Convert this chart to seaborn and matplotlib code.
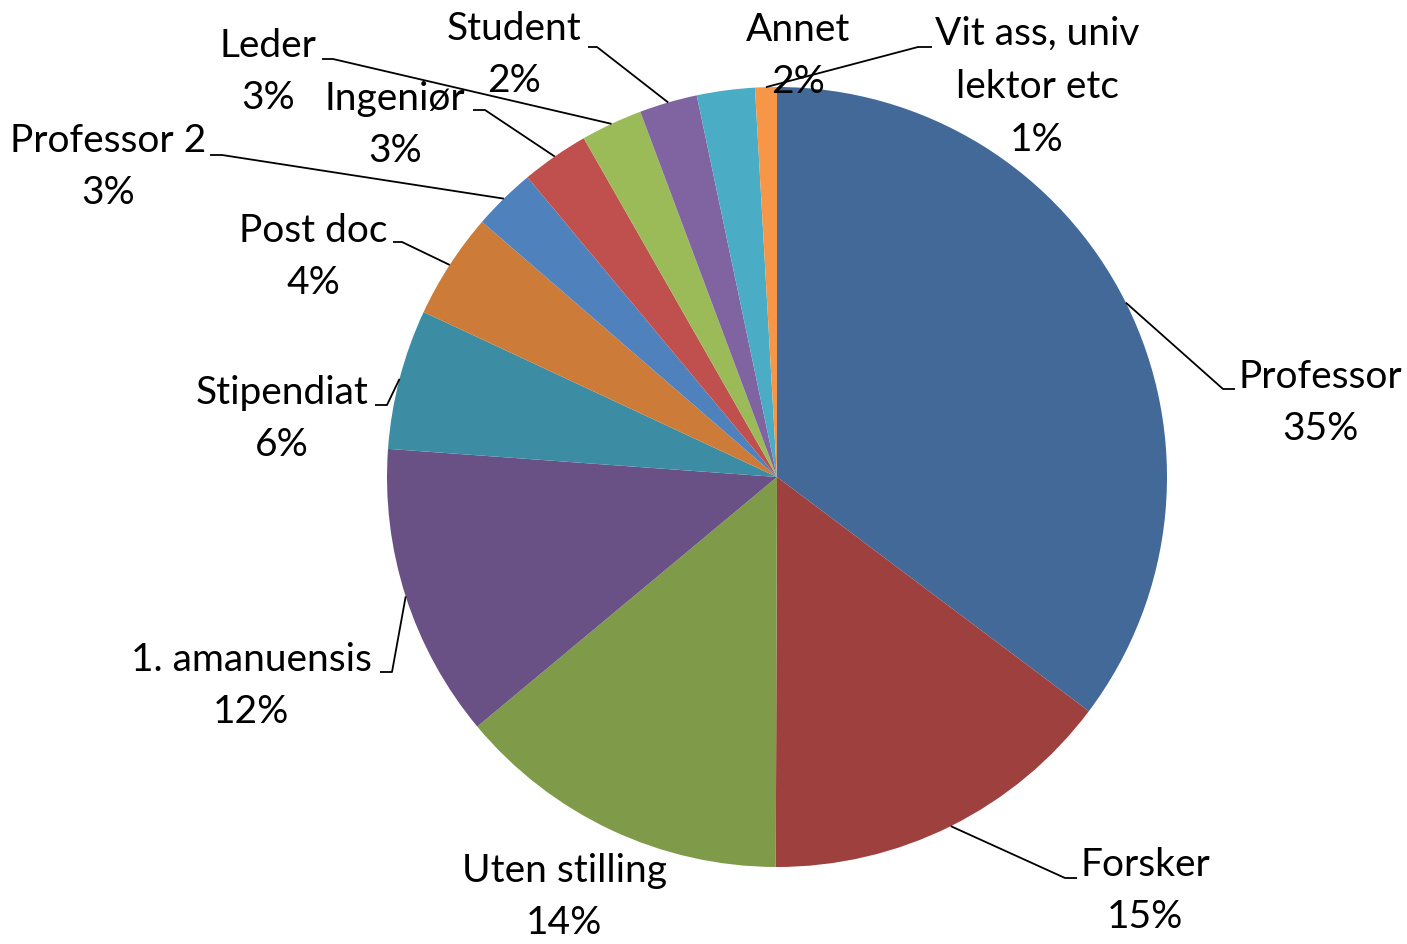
import numpy as np
import matplotlib
matplotlib.use("Agg")
import matplotlib.pyplot as plt
import seaborn as sns

# ---- data ----
categories = ["Professor", "Forsker", "Uten stilling", "1. amanuensis", "Stipendiat",
              "Post doc", "Professor 2", "Ingeniør", "Leder", "Student", "Annet",
              "Vit ass, univ\nlektor etc"]
shares = [35.25, 14.8, 13.9, 12.2, 5.8, 4.4, 2.6, 2.8, 2.55, 2.4, 2.4, 0.9]
colors = ["#426998", "#9E413E", "#7F9A48", "#695185", "#3C8DA3", "#CC7B38",
          "#4F81BD", "#C0504D", "#9BBB59", "#8064A2", "#4BACC6", "#F79646"]

# ---- layout (pixel coordinates, y measured from top) ----
W, H = 1407, 944
center_px = (777, 477)
radius_px = 390
label_pos = [(1320, 403), (1145, 891), (564, 897), (251, 686), (282, 419), (313, 257),
             (108, 167), (395, 125), (268, 72), (514, 55), (798, 56), (1037, 87)]
# elbow point and end point of leader lines (None = no leader)
leaders = [((1223, 389), (1235, 389)), ((1065, 878), (1077, 878)), None,
           ((392, 672), (380, 672)), ((387, 405), (375, 405)), ((402, 242), (393, 242)),
           ((222, 155), (210, 155)), ((485, 110), (473, 110)), ((333, 59), (322, 59)),
           ((597, 47), (588, 47)), None, ((918, 47), (932, 47))]

sns.set_theme(style="white")
plt.rcParams["font.family"] = ["Lato", "DejaVu Sans"]

fig = plt.figure(figsize=(W / 100, H / 100), dpi=100)
ax = fig.add_axes([0, 0, 1, 1])
ax.set_xlim(0, W)
ax.set_ylim(0, H)
ax.set_aspect("equal")
ax.axis("off")

cx, cy = center_px[0], H - center_px[1]
wedges, _ = ax.pie(shares, colors=colors, startangle=90, counterclock=False,
                   center=(cx, cy), radius=radius_px, frame=True,
                   wedgeprops=dict(linewidth=0))
ax.set_xlim(0, W)
ax.set_ylim(0, H)
ax.axis("off")

total = sum(shares)
for i, (w, cat) in enumerate(zip(wedges, categories)):
    pct = round(shares[i] / total * 100)
    lx, ly = label_pos[i]
    ax.text(lx, H - ly, f"{cat}\n{pct}%", ha="center", va="center",
            fontsize=28, color="black", linespacing=1.58, zorder=5)
    if leaders[i] is not None:
        mid = np.deg2rad((w.theta1 + w.theta2) / 2)
        sx = cx + radius_px * np.cos(mid)
        sy = cy + radius_px * np.sin(mid)
        (ex, ey), (fx, fy) = leaders[i]
        ax.plot([sx, ex, fx], [sy, H - ey, H - fy], color="black", lw=1.3,
                solid_capstyle="butt", zorder=4)

fig.savefig("out.png", dpi=100, facecolor="white")
